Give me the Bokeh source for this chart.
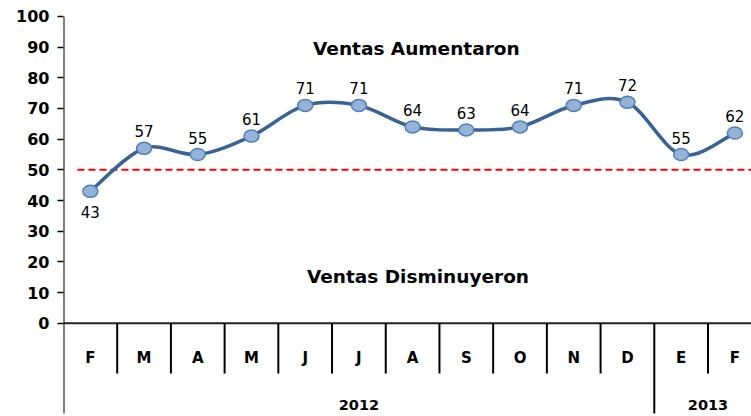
import numpy as np
from bokeh.plotting import figure
from bokeh.models import Range1d, FixedTicker, ColumnDataSource
from bokeh.core.properties import value
from bokeh.embed import file_html
from bokeh.resources import INLINE

# ---- data ----
months = ["F", "M", "A", "M", "J", "J", "A", "S", "O", "N", "D", "E", "F"]
sales = [43, 57, 55, 61, 71, 71, 64, 63, 64, 71, 72, 55, 62]
years = ["2012", "2013"]
year_counts = [11, 2]
threshold = 50
y_ticks = list(range(0, 101, 10))
label_above = [False] + [True] * 12
upper_text = "Ventas Aumentaron"
lower_text = "Ventas Disminuyeron"

n = len(months)
xs = np.arange(n) + 0.5
ys = np.array(sales, dtype=float)

BOLD = "DejaVu Sans"
p = figure(width=751, height=416,
           x_range=Range1d(0, 12.81), y_range=Range1d(-30.4, 105.2),
           x_axis_location=None, output_backend="svg", toolbar_location=None,
           min_border_left=63, min_border_right=0, min_border_top=0, min_border_bottom=0)
p.outline_line_color = None
p.xgrid.visible = False
p.ygrid.visible = False
p.background_fill_color = "white"

ax = p.yaxis[0]
ax.ticker = FixedTicker(ticks=y_ticks)
ax.axis_line_color = None
ax.major_tick_in = 0
ax.major_tick_out = 6
ax.major_tick_line_width = 1.5
ax.major_tick_line_color = "black"
ax.minor_tick_line_color = None
ax.major_label_text_font = BOLD
ax.major_label_text_font_style = "bold"
ax.major_label_text_font_size = "16px"
ax.major_label_text_color = "black"
ax.major_label_standoff = 8

# axis frame lines
bounds = np.concatenate([[0], np.cumsum(year_counts)])
month_depth = -16.4
year_depth = -29.4
p.segment(x0=[0], y0=[year_depth], x1=[0], y1=[y_ticks[-1]], line_color="black", line_width=2)
p.segment(x0=[0], y0=[0], x1=[n], y1=[0], line_color="#222222", line_width=2)
msep = [i for i in range(1, n) if i not in bounds]
p.segment(x0=msep, y0=[0] * len(msep), x1=msep, y1=[month_depth] * len(msep), line_color="black", line_width=2)
ysep = [int(b) for b in bounds[1:-1]]
p.segment(x0=ysep, y0=[0] * len(ysep), x1=ysep, y1=[year_depth] * len(ysep), line_color="black", line_width=2)

# category labels
p.text(x=xs, y=[-11.2] * n, text=months, text_align="center", text_baseline="middle",
       text_font=value(BOLD), text_font_style="bold", text_font_size="15px", text_color="black")
ycent = (bounds[:-1] + bounds[1:]) / 2.0
p.text(x=ycent, y=[-26.7] * len(years), text=years, text_align="center", text_baseline="middle",
       text_font=value(BOLD), text_font_style="bold", text_font_size="14.5px", text_color="black")

# threshold line
p.segment(x0=[xs[0] - 0.24], y0=[threshold], x1=[n], y1=[threshold],
          line_color="#FF0000", line_width=2, line_dash="7 4")

# smoothed line (Catmull-Rom bezier)
P = np.column_stack([xs, ys])
x0s, y0s, x1s, y1s, cx0, cy0, cx1, cy1 = [], [], [], [], [], [], [], []
for i in range(n - 1):
    p0 = P[i - 1] if i > 0 else P[i]
    p1 = P[i]
    p2 = P[i + 1]
    p3 = P[i + 2] if i + 2 < n else P[i + 1]
    c1 = p1 + (p2 - p0) / 6.0
    c2 = p2 - (p3 - p1) / 6.0
    x0s.append(p1[0]); y0s.append(p1[1]); x1s.append(p2[0]); y1s.append(p2[1])
    cx0.append(c1[0]); cy0.append(c1[1]); cx1.append(c2[0]); cy1.append(c2[1])
p.bezier(x0=x0s, y0=y0s, x1=x1s, y1=y1s, cx0=cx0, cy0=cy0, cx1=cx1, cy1=cy1,
         line_color="#3A6395", line_width=3.5)

# markers
p.ellipse(x=xs, y=ys, width=15, height=12, width_units="screen", height_units="screen",
          fill_color="#95B3D7", line_color="#4F81BD", line_width=1.5)

# data labels
src = ColumnDataSource(dict(x=xs, y=ys, t=[str(v) for v in sales],
                            off=[-17 if a else 21 for a in label_above]))
p.text(x="x", y="y", text="t", y_offset="off", source=src, text_align="center", text_baseline="middle",
       text_font=value("DejaVu Sans"), text_font_size="15px", text_color="black")

# region annotations
p.text(x=[6.57], y=[89.4], text=[upper_text], text_align="center", text_baseline="middle",
       text_font=value(BOLD), text_font_style="bold", text_font_size="18.5px", text_color="black")
p.text(x=[6.6], y=[15.3], text=[lower_text], text_align="center", text_baseline="middle",
       text_font=value(BOLD), text_font_style="bold", text_font_size="18.5px", text_color="black")

open("out.html", "w").write(file_html(p, INLINE))
